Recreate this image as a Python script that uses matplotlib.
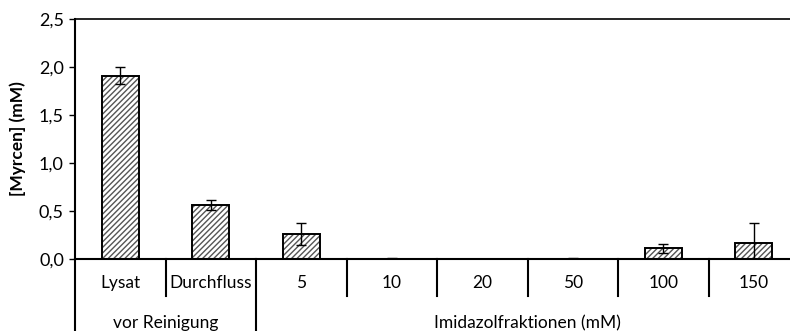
import numpy as np
import matplotlib.pyplot as plt
import matplotlib.transforms as mtransforms

plt.rcParams['font.family'] = ['Lato', 'DejaVu Sans']
plt.rcParams['hatch.linewidth'] = 1.0

# Daten
kategorien = ['Lysat', 'Durchfluss', '5', '10', '20', '50', '100', '150']
werte = [1.91, 0.56, 0.26, 0.005, 0.0, 0.003, 0.11, 0.17]
fehler = [0.09, 0.05, 0.11, 0.005, 0.0, 0.01, 0.05, 0.21]
gruppen = ['vor Reinigung', 'Imidazolfraktionen (mM)']
gruppen_grenzen = [(-0.5, 1.5), (1.5, 7.5)]
yticks = [0.0, 0.5, 1.0, 1.5, 2.0, 2.5]

fs = 12.5
fig = plt.figure(figsize=(7.9, 3.31), dpi=100)
ax = fig.add_axes([75/790, 72/331, 724/790, 240/331])

x = np.arange(len(kategorien))
# Schraffur grau, Rand schwarz
ax.bar(x, werte, width=0.41, color='white', edgecolor='#555555', linewidth=0,
       hatch='//////', zorder=2)
ax.bar(x, werte, width=0.41, color='none', edgecolor='black', linewidth=1.4,
       zorder=2)
ax.errorbar(x, werte, yerr=fehler, fmt='none', ecolor='black', elinewidth=1,
            capsize=3.5, capthick=1, zorder=3)

ax.set_xlim(-0.5, 7.5)
ax.set_ylim(0, 2.5)
ax.set_yticks(yticks)
ax.set_yticklabels([f'{v:.1f}'.replace('.', ',') for v in yticks], fontsize=13)
ax.set_xticks([])
ax.tick_params(axis='y', direction='out', length=4, width=1, pad=4)
ax.set_ylabel('[Myrcen] (mM)', fontsize=fs, fontweight='bold', labelpad=9)

ax.spines['right'].set_visible(False)
ax.spines['top'].set_linewidth(1.2)
ax.spines['left'].set_linewidth(1.5)
ax.spines['bottom'].set_linewidth(1.5)

trans = mtransforms.blended_transform_factory(ax.transData, ax.transAxes)
# Trennlinien der Kategorien
for i in range(len(kategorien) + 1):
    xs = i - 0.5
    tief = -0.30 if xs in (-0.5, 1.5) else -0.155
    ax.plot([xs, xs], [0, tief], color='black', lw=1.5, transform=trans,
            clip_on=False)
for i, k in enumerate(kategorien):
    ax.text(i, -0.10, k, transform=trans, ha='center', va='center', fontsize=fs)
for g, (a, b) in zip(gruppen, gruppen_grenzen):
    ax.text((a + b) / 2, -0.267, g, transform=trans, ha='center', va='center',
            fontsize=fs)

fig.savefig('out.png', dpi=100)
